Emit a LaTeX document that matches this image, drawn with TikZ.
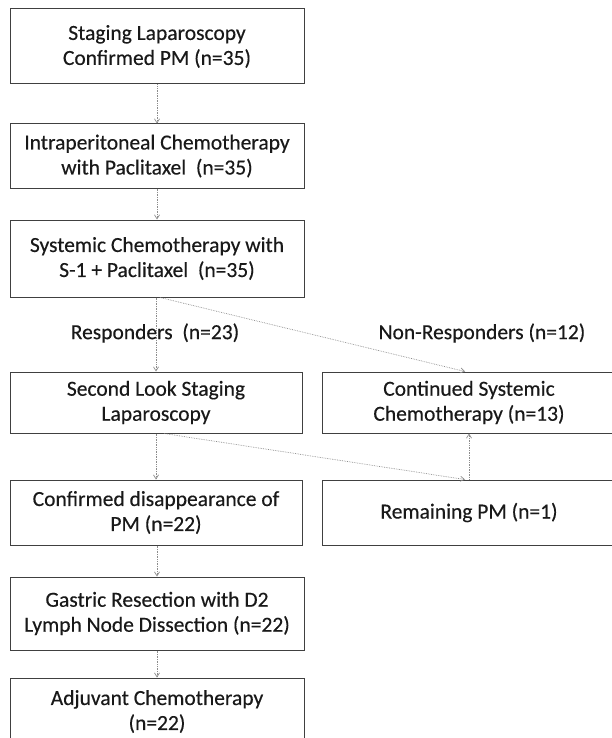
\documentclass[tikz,border=0pt]{standalone}
\usepackage{fontspec}
\setmainfont{Carlito}
\newfontfamily\boxfont{Carlito}[FakeBold=0.35]
\usetikzlibrary{arrows.meta}
\begin{document}
\begin{tikzpicture}[x=1pt,y=-1pt,
  box/.style={draw=black!75, line width=1pt, align=center, inner sep=0pt,
     font=\boxfont\fontsize{21.5}{25}\selectfont, text=black!90},
  lbl/.style={font=\boxfont\fontsize{21.5}{25}\selectfont, text=black!90, inner sep=0pt},
  conn/.style={draw=black!45, densely dotted, line width=0.7pt,
     -{Straight Barb[length=4pt,width=5pt]}}]
\useasboundingbox (0,0) rectangle (612,738);
\clip (0,0) rectangle (612,738);
\node[box, minimum width=294pt, minimum height=75pt] (b1) at (157,46.5)
  {Staging Laparoscopy\\Confirmed PM (n=35)};
\node[box, minimum width=294pt, minimum height=64pt] (b2) at (157,156)
  {Intraperitoneal Chemotherapy\\with Paclitaxel\ \ (n=35)};
\node[box, minimum width=294pt, minimum height=77pt] (b3) at (157,258.5)
  {Systemic Chemotherapy with\\S-1 + Paclitaxel\ \ (n=35)};
\node[box, minimum width=292pt, minimum height=61pt] (b4) at (156,402.5)
  {Second Look Staging\\Laparoscopy};
\node[box, minimum width=294pt, minimum height=61pt] (c) at (469,402.5)
  {Continued Systemic\\Chemotherapy (n=13)};
\node[box, minimum width=292pt, minimum height=65pt] (b5) at (156,512.5)
  {Confirmed disappearance of\\PM (n=22)};
\node[box, minimum width=294pt, minimum height=65pt] (r) at (469,512.5)
  {Remaining PM (n=1)};
\node[box, minimum width=294pt, minimum height=73pt] (b6) at (157,613.5)
  {Gastric Resection with D2\\Lymph Node Dissection (n=22)};
\node[box, minimum width=294pt, minimum height=67pt] (b7) at (157,711.5)
  {Adjuvant Chemotherapy\\(n=22)};
\node[lbl] (lr) at (155,333) {Responders\ \ (n=23)};
\node[lbl] (ln) at (482,333) {Non-Responders (n=12)};
\draw[conn] (b1.south) -- (b2.north);
\draw[conn] (b2.south) -- (b3.north);
\draw[conn] (b4.north |- b3.south) -- (b4.north);
\draw[conn] ([xshift=3pt]b3.south) -- ([xshift=-4pt]c.north);
\draw[conn] (b4.south) -- (b5.north);
\draw[conn] ([xshift=8pt]b4.south) -- ([xshift=-4pt]r.north);
\draw[conn] (r.north) -- (c.south);
\draw[conn] (b5.south -| b6.north) -- (b6.north);
\draw[conn] (b6.south) -- (b7.north);
\end{tikzpicture}
\end{document}
